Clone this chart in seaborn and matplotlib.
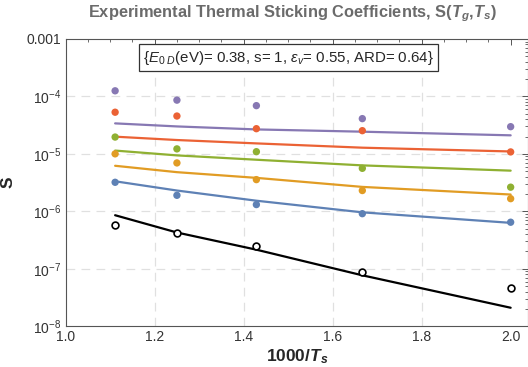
import numpy as np
import pandas as pd
import matplotlib
matplotlib.use("Agg")
import matplotlib.pyplot as plt
import matplotlib.ticker as mticker
import seaborn as sns

# data (x = 1000/Ts)
x_vals = [1000 / 900, 1000 / 800, 1000 / 700, 1000 / 600, 1000 / 500]
series_names = ["purple", "red", "green", "yellow", "blue"]
colors = ["#8778B3", "#EB6235", "#8FB032", "#E19C24", "#5E81B5"]

# experimental points
exp_purple = [1.25e-4, 8.6e-5, 6.9e-5, 4.1e-5, 2.97e-5]
exp_red = [5.3e-5, 4.55e-5, 2.74e-5, 2.53e-5, 1.08e-5]
exp_green = [1.96e-5, 1.22e-5, 1.09e-5, 5.6e-6, 2.63e-6]
exp_yellow = [1.0e-5, 6.95e-6, 3.56e-6, 2.3e-6, 1.66e-6]
exp_blue = [3.2e-6, 1.9e-6, 1.31e-6, 9.1e-7, 6.46e-7]
exp_black = [5.67e-7, 4.2e-7, 2.5e-7, 8.8e-8, 4.57e-8]

# model curves
fit_purple = [3.39e-5, 3.0e-5, 2.66e-5, 2.43e-5, 2.1e-5]
fit_red = [1.99e-5, 1.74e-5, 1.52e-5, 1.28e-5, 1.1e-5]
fit_green = [1.14e-5, 9.4e-6, 7.9e-6, 6.3e-6, 5.1e-6]
fit_yellow = [6.2e-6, 4.8e-6, 3.82e-6, 2.66e-6, 1.96e-6]
fit_blue = [3.33e-6, 2.3e-6, 1.53e-6, 9.6e-7, 6.3e-7]
fit_black = [8.55e-7, 4.28e-7, 2.15e-7, 7.7e-8, 2.1e-8]

exp_all = [exp_purple, exp_red, exp_green, exp_yellow, exp_blue]
fit_all = [fit_purple, fit_red, fit_green, fit_yellow, fit_blue]

rows_exp = []
rows_fit = []
for name, e, f in zip(series_names, exp_all, fit_all):
    for xv, ev, fv in zip(x_vals, e, f):
        rows_exp.append({"x": xv, "S": ev, "series": name})
        rows_fit.append({"x": xv, "S": fv, "series": name})
df_exp = pd.DataFrame(rows_exp)
df_fit = pd.DataFrame(rows_fit)
df_black_exp = pd.DataFrame({"x": x_vals, "S": exp_black})
df_black_fit = pd.DataFrame({"x": x_vals, "S": fit_black})

sns.set_style("white")
plt.rcParams["font.family"] = ["Liberation Sans", "DejaVu Sans"]
plt.rcParams["mathtext.fontset"] = "custom"
plt.rcParams["mathtext.rm"] = "Liberation Sans"
plt.rcParams["mathtext.it"] = "Liberation Sans:italic"
plt.rcParams["mathtext.bf"] = "Liberation Sans:bold:italic"

fig = plt.figure(figsize=(5.28, 3.67), dpi=100)
ax = fig.add_axes([0.1244, 0.111, 0.8756, 0.783])

# grid
for gx in [1.2, 1.4, 1.6, 1.8]:
    ax.axvline(gx, color="#e0e0e0", lw=0.9, ls=(0, (7, 5)), zorder=0)
for gy in [1e-4, 1e-5, 1e-6, 1e-7]:
    ax.axhline(gy, color="#e0e0e0", lw=0.9, ls=(0, (7, 5)), zorder=0)

palette = dict(zip(series_names, colors))
sns.lineplot(data=df_fit, x="x", y="S", hue="series", palette=palette,
             lw=1.6, legend=False, ax=ax, zorder=3)
sns.lineplot(data=df_black_fit, x="x", y="S", color="black", lw=1.6,
             legend=False, ax=ax, zorder=3)
sns.scatterplot(data=df_exp, x="x", y="S", hue="series", palette=palette,
                s=28, edgecolor="none", legend=False, ax=ax, zorder=4)
sns.scatterplot(data=df_black_exp, x="x", y="S", facecolor="white",
                edgecolor="black", linewidth=1.2, s=24, legend=False, ax=ax, zorder=4)

ax.set_yscale("log")
ax.set_xlim(1.0, 2.039)
ax.set_ylim(1e-8, 1e-3)

ax.xaxis.set_major_locator(mticker.FixedLocator([1.0, 1.2, 1.4, 1.6, 1.8, 2.0]))
ax.xaxis.set_minor_locator(mticker.MultipleLocator(0.05))
ax.set_xticklabels(["1.0", "1.2", "1.4", "1.6", "1.8", "2.0"])
ax.yaxis.set_major_locator(mticker.FixedLocator([1e-8, 1e-7, 1e-6, 1e-5, 1e-4, 1e-3]))
ax.set_yticklabels(["$10^{-8}$", "$10^{-7}$", "$10^{-6}$", "$10^{-5}$", "$10^{-4}$", "0.001"])
ax.yaxis.set_minor_locator(mticker.LogLocator(base=10, subs=np.arange(2, 10), numticks=20))
ax.yaxis.set_minor_formatter(mticker.NullFormatter())

ax.tick_params(which="both", direction="in", top=True, right=True,
               colors="#555555", labelcolor="#333333", labelsize=10)
ax.tick_params(which="major", length=4.5, width=0.7, pad=3)
ax.tick_params(which="minor", length=2.5, width=0.6)
for sp in ax.spines.values():
    sp.set_color("#555555")
    sp.set_linewidth(0.8)

ax.set_xlabel(r"1000/$\mathbf{T_s}$", fontsize=12.5, fontweight="bold", labelpad=2)
ax.set_ylabel("S", fontsize=12.5, fontweight="bold", labelpad=8)

fig.text(0.553, 0.962, r"Experimental Thermal Sticking Coefficients, S($\mathbf{T_g}$,$\mathbf{T_s}$)",
         ha="center", va="center", fontsize=11.8, fontweight="bold", color="#6b6b6b")

ax.text(0.482, 0.966,
        r"{$E_{0\ D}$(eV)= 0.38, s= 1, $\epsilon_v$= 0.55, ARD= 0.64}",
        transform=ax.transAxes, ha="center", va="top", fontsize=10.8,
        bbox=dict(boxstyle="square,pad=0.28", facecolor="white", edgecolor="#333333", lw=0.9),
        zorder=5)

fig.savefig("out.png", dpi=100)
